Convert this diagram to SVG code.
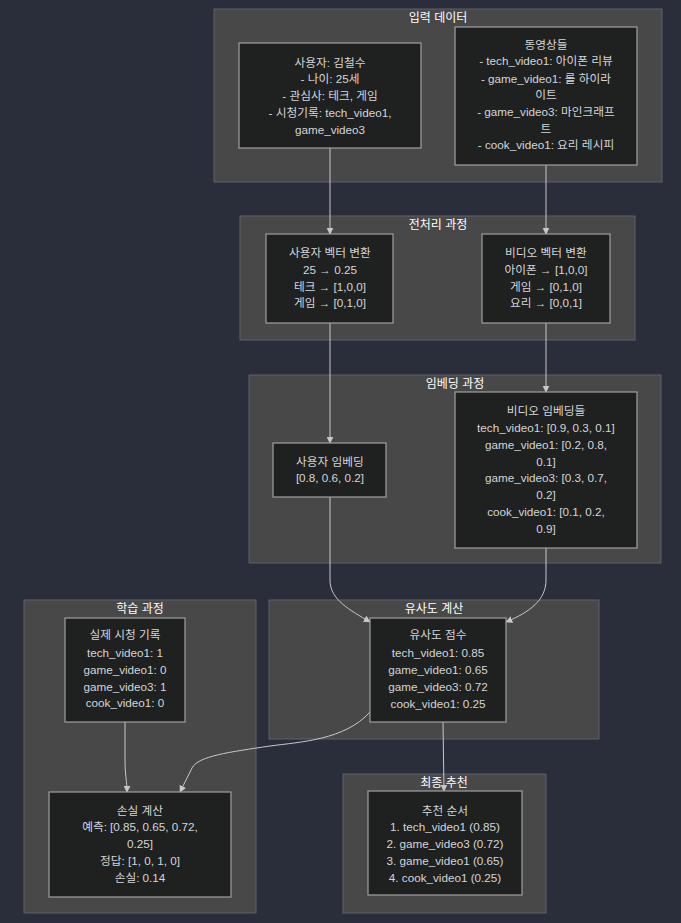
<svg xmlns="http://www.w3.org/2000/svg" width="681" height="923" viewBox="0 0 681 923">
<style>
.bg{fill:#2a2e3a}
.cl{fill:#484848;stroke:#5e6068;stroke-width:1}
.nd{fill:#1f2020;stroke:#a0a0a0;stroke-width:1.2}
.ct{font-family:"Liberation Sans","Noto Sans CJK KR",sans-serif;font-size:12px;fill:#ffffff;text-anchor:middle}
.t{font-family:"Liberation Sans","Noto Sans CJK KR",sans-serif;font-size:11.7px;fill:#d4d6da;text-anchor:middle}
.e{fill:none;stroke:#c8c8c8;stroke-width:1}
</style>
<defs>
<marker id="ah" viewBox="0 0 10 10" refX="9" refY="5" markerWidth="7" markerHeight="7" orient="auto-start-reverse" markerUnits="userSpaceOnUse">
<path d="M0,0 L10,5 L0,10 z" fill="#c8c8c8"/>
</marker>
</defs>
<rect class="bg" x="0" y="0" width="681" height="923"/>

<g id="cluster-input">
<rect class="cl" x="214" y="9" width="448" height="173"/>
<text class="ct" x="438" y="22">입력 데이터</text>
</g>
<g id="cluster-pre">
<rect class="cl" x="240" y="216" width="395" height="124"/>
<text class="ct" x="438" y="229">전처리 과정</text>
</g>
<g id="cluster-emb">
<rect class="cl" x="249" y="375" width="412" height="188"/>
<text class="ct" x="455" y="388">임베딩 과정</text>
</g>
<g id="cluster-train">
<rect class="cl" x="24" y="600" width="232" height="313"/>
<text class="ct" x="140" y="613">학습 과정</text>
</g>
<g id="cluster-sim">
<rect class="cl" x="269" y="600" width="330" height="139"/>
<text class="ct" x="434" y="613">유사도 계산</text>
</g>
<g id="cluster-final">
<rect class="cl" x="343" y="774" width="203" height="139"/>
<text class="ct" x="444" y="787">최종 추천</text>
</g>

<g id="edges">
<path class="e" d="M330,148 L330,234" marker-end="url(#ah)"/>
<path class="e" d="M546,165 L546,234" marker-end="url(#ah)"/>
<path class="e" d="M330,323 L330,443" marker-end="url(#ah)"/>
<path class="e" d="M546,323 L546,392" marker-end="url(#ah)"/>
<path class="e" d="M330,497 L330,580 C330,600 350,610 370,622" marker-end="url(#ah)"/>
<path class="e" d="M546,548 L546,580 C546,600 530,612 506,622" marker-end="url(#ah)"/>
<path class="e" d="M125,722 L125,760 C125,775 127,782 127,792" marker-end="url(#ah)"/>
<path class="e" d="M370,712 C345,740 300,742 270,746 C230,752 198,756 192,768 C188,776 184,784 180,792" marker-end="url(#ah)"/>
<path class="e" d="M443,722 L444,791" marker-end="url(#ah)"/>
</g>

<g id="node-user">
<rect class="nd" x="239" y="43" width="182" height="105"/>
<text class="t" x="330" y="67">사용자: 김철수</text>
<text class="t" x="330" y="83">- 나이: 25세</text>
<text class="t" x="330" y="100">- 관심사: 테크, 게임</text>
<text class="t" x="330" y="117">- 시청기록: tech_video1,</text>
<text class="t" x="330" y="134">game_video3</text>
</g>
<g id="node-videos">
<rect class="nd" x="455" y="27" width="182" height="138"/>
<text class="t" x="546" y="49">동영상들</text>
<text class="t" x="546" y="65">- tech_video1: 아이폰 리뷰</text>
<text class="t" x="546" y="83">- game_video1: 롤 하이라</text>
<text class="t" x="546" y="99">이트</text>
<text class="t" x="546" y="116">- game_video3: 마인크래프</text>
<text class="t" x="546" y="133">트</text>
<text class="t" x="546" y="149">- cook_video1: 요리 레시피</text>
</g>
<g id="node-uservec">
<rect class="nd" x="266" y="234" width="127" height="89"/>
<text class="t" x="330" y="257">사용자 벡터 변환</text>
<text class="t" x="330" y="274">25 → 0.25</text>
<text class="t" x="330" y="291">테크 → [1,0,0]</text>
<text class="t" x="330" y="307">게임 → [0,1,0]</text>
</g>
<g id="node-videovec">
<rect class="nd" x="482" y="234" width="128" height="89"/>
<text class="t" x="546" y="257">비디오 벡터 변환</text>
<text class="t" x="546" y="274">아이폰 → [1,0,0]</text>
<text class="t" x="546" y="291">게임 → [0,1,0]</text>
<text class="t" x="546" y="307">요리 → [0,0,1]</text>
</g>
<g id="node-useremb">
<rect class="nd" x="273" y="443" width="113" height="54"/>
<text class="t" x="330" y="466">사용자 임베딩</text>
<text class="t" x="330" y="482">[0.8, 0.6, 0.2]</text>
</g>
<g id="node-videoemb">
<rect class="nd" x="455" y="392" width="182" height="156"/>
<text class="t" x="546" y="415">비디오 임베딩들</text>
<text class="t" x="546" y="432">tech_video1: [0.9, 0.3, 0.1]</text>
<text class="t" x="546" y="449">game_video1: [0.2, 0.8,</text>
<text class="t" x="546" y="466">0.1]</text>
<text class="t" x="546" y="482">game_video3: [0.3, 0.7,</text>
<text class="t" x="546" y="499">0.2]</text>
<text class="t" x="546" y="516">cook_video1: [0.1, 0.2,</text>
<text class="t" x="546" y="533">0.9]</text>
</g>
<g id="node-actual">
<rect class="nd" x="65" y="618" width="120" height="104"/>
<text class="t" x="125" y="639">실제 시청 기록</text>
<text class="t" x="125" y="657">tech_video1: 1</text>
<text class="t" x="125" y="674">game_video1: 0</text>
<text class="t" x="125" y="691">game_video3: 1</text>
<text class="t" x="125" y="707">cook_video1: 0</text>
</g>
<g id="node-sim">
<rect class="nd" x="370" y="618" width="136" height="104"/>
<text class="t" x="438" y="639">유사도 점수</text>
<text class="t" x="438" y="657">tech_video1: 0.85</text>
<text class="t" x="438" y="674">game_video1: 0.65</text>
<text class="t" x="438" y="691">game_video3: 0.72</text>
<text class="t" x="438" y="708">cook_video1: 0.25</text>
</g>
<g id="node-loss">
<rect class="nd" x="49" y="792" width="182" height="105"/>
<text class="t" x="140" y="815">손실 계산</text>
<text class="t" x="140" y="831">예측: [0.85, 0.65, 0.72,</text>
<text class="t" x="140" y="848">0.25]</text>
<text class="t" x="140" y="865">정답: [1, 0, 1, 0]</text>
<text class="t" x="140" y="882">손실: 0.14</text>
</g>
<g id="node-rec">
<rect class="nd" x="368" y="791" width="154" height="104"/>
<text class="t" x="445" y="815">추천 순서</text>
<text class="t" x="445" y="831">1. tech_video1 (0.85)</text>
<text class="t" x="445" y="848">2. game_video3 (0.72)</text>
<text class="t" x="445" y="865">3. game_video1 (0.65)</text>
<text class="t" x="445" y="882">4. cook_video1 (0.25)</text>
</g>
</svg>
